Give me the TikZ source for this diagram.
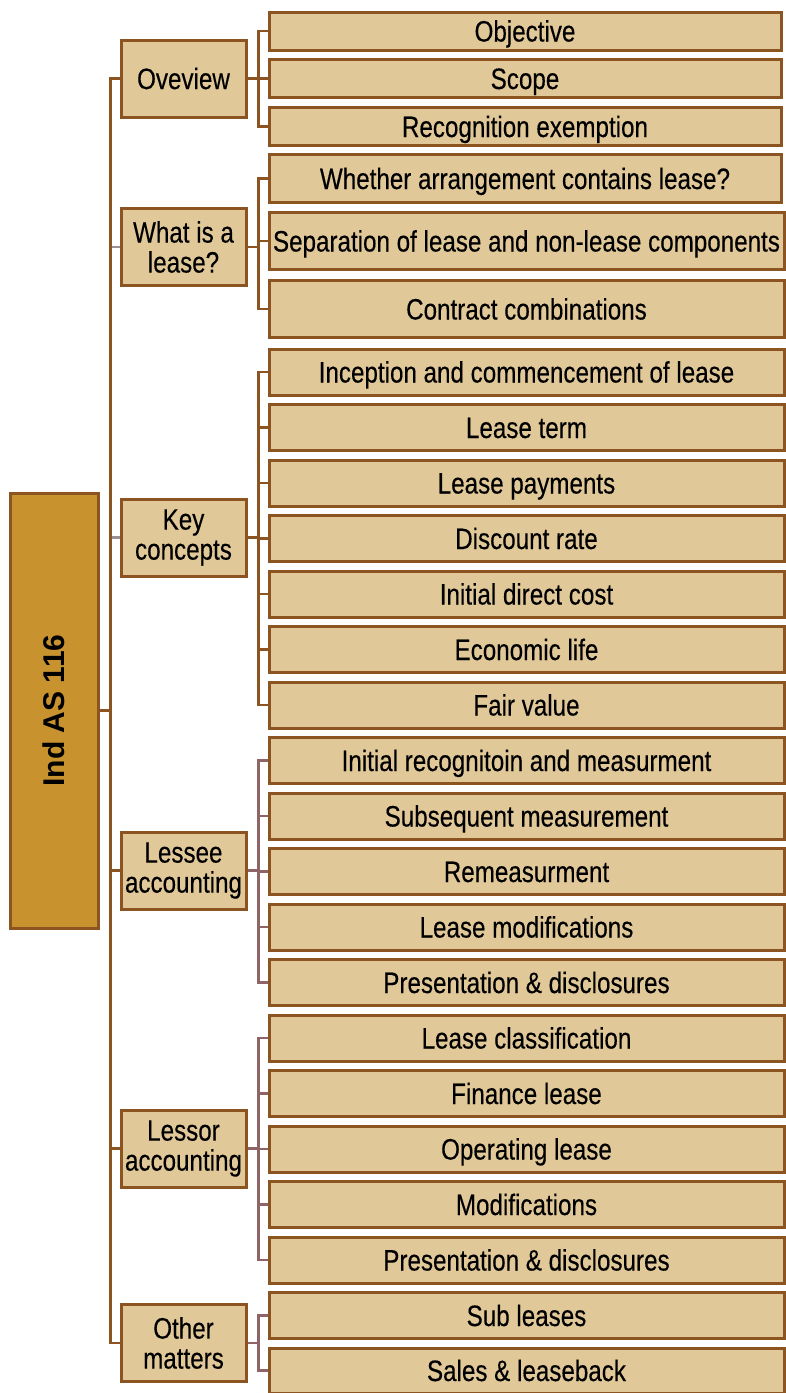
\documentclass[tikz,border=0pt]{standalone}
\usepackage{fontspec}
\setmainfont{Liberation Sans}
\newfontfamily\narrowsans{Liberation Sans}[FakeStretch=0.82, FakeBold=0.3]
\usetikzlibrary{positioning}

\definecolor{boxfill}{HTML}{E1C898}
\definecolor{rootfill}{HTML}{C8922F}
\definecolor{edge}{HTML}{8B5421}
\definecolor{mauve}{HTML}{8E6466}
\definecolor{greylink}{HTML}{9A8F95}

\tikzset{
  box/.style={draw=edge, line width=3pt, fill=boxfill, inner sep=0pt,
    font=\narrowsans\fontsize{29.5}{30}\selectfont, align=center},
  rootbox/.style={draw=edge, line width=3pt, fill=rootfill, inner sep=0pt,
    minimum width=88, minimum height=435},
  topic/.style={box, minimum width=125, minimum height=77},
  item/.style={box, minimum width=515, minimum height=46,
    text height=21pt, text depth=0pt},
  link/.style={draw=edge, line width=2.6pt},
  mlink/.style={draw=mauve, line width=2.6pt},
  glink/.style={draw=greylink, line width=2.6pt},
}

\begin{document}
\begin{tikzpicture}[x=1pt, y=-1pt]
\useasboundingbox (0,0) rectangle (785,1393);

% root
\node[rootbox] (root) at (54,710.5) {};
\node[rotate=90, font=\bfseries\fontsize{30}{30}\selectfont] (rootlabel) at (root.center) {Ind AS 116};

% main topics
\node[topic] (ov)  at (183.5,78.5)  {Oveview};
\node[topic] (wl)  at (183.5,247)   {What is a\\lease?};
\node[topic] (kc)  at (183.5,537.5) {Key\\concepts};
\node[topic] (lee) at (183.5,870.5) {Lessee\\accounting};
\node[topic] (lor) at (183.5,1148.5){Lessor\\accounting};
\node[topic] (oth) at (183.5,1343)  {Other\\matters};

% overview items
\node[item, minimum width=512, minimum height=38] (ov1) at (525,31)    {Objective};
\node[item, minimum width=512, minimum height=38] (ov2) at (525,78.5)  {Scope};
\node[item, minimum width=512, minimum height=38] (ov3) at (525,126.5) {Recognition exemption};

% what is a lease items
\node[item, minimum width=512, minimum height=48] (wl1) at (525,178.5) {Whether arrangement contains lease?};
\node[item, minimum height=57] (wl2) at (526.5,241) {Separation of lease and non-lease components};
\node[item, minimum height=57] (wl3) at (526.5,309) {Contract combinations};

% key concepts items
\node[item] (kc1) at (526.5,372)   {Inception and commencement of lease};
\node[item] (kc2) at (526.5,427.5) {Lease term};
\node[item] (kc3) at (526.5,483)   {Lease payments};
\node[item] (kc4) at (526.5,538.5) {Discount rate};
\node[item] (kc5) at (526.5,594)   {Initial direct cost};
\node[item] (kc6) at (526.5,649.5) {Economic life};
\node[item] (kc7) at (526.5,705)   {Fair value};

% lessee items
\node[item] (le1) at (526.5,760.5) {Initial recognitoin and measurment};
\node[item] (le2) at (526.5,816)   {Subsequent measurement};
\node[item] (le3) at (526.5,871.5) {Remeasurment};
\node[item] (le4) at (526.5,927)   {Lease modifications};
\node[item] (le5) at (526.5,982.5) {Presentation \& disclosures};

% lessor items
\node[item] (lo1) at (526.5,1038)   {Lease classification};
\node[item] (lo2) at (526.5,1093.5) {Finance lease};
\node[item] (lo3) at (526.5,1149)   {Operating lease};
\node[item] (lo4) at (526.5,1204.5) {Modifications};
\node[item] (lo5) at (526.5,1260)   {Presentation \& disclosures};

% other matters items
\node[item] (ot1) at (526.5,1315.5) {Sub leases};
\node[item, minimum height=45] (ot2) at (526.5,1370.5) {Sales \& leaseback};

% trunk from the root to each topic
\foreach \t/\s in {ov/link, wl/glink, kc/glink, lee/link, lor/link, oth/link}
  \draw[\s] (root.east) -- ++(11,0) |- (\t.west);
\draw[link] (root.east) -- ++(11,0) |- (ov.west);
\draw[link] (root.east) -- ++(11,0) |- (oth.west);

% brackets from each topic to its items
\foreach \c in {ov1,ov2,ov3}
  \draw[link] (ov.east) -- ++(11,0) |- (\c.west);
\foreach \c in {wl1,wl2,wl3}
  \draw[link] (wl.east) -- ++(11,0) |- (\c.west);
\foreach \c in {kc1,kc2,kc3,kc4,kc5,kc6,kc7}
  \draw[link] (kc.east) -- ++(11,0) |- (\c.west);
\foreach \c in {le1,le2,le3,le4,le5}
  \draw[mlink] (lee.east) -- ++(11,0) |- (\c.west);
\foreach \c in {lo1,lo2,lo3,lo4,lo5}
  \draw[mlink] (lor.east) -- ++(11,0) |- (\c.west);
\foreach \c in {ot1,ot2}
  \draw[mlink] (oth.east) -- ++(11,0) |- (\c.west);
\end{tikzpicture}
\end{document}
